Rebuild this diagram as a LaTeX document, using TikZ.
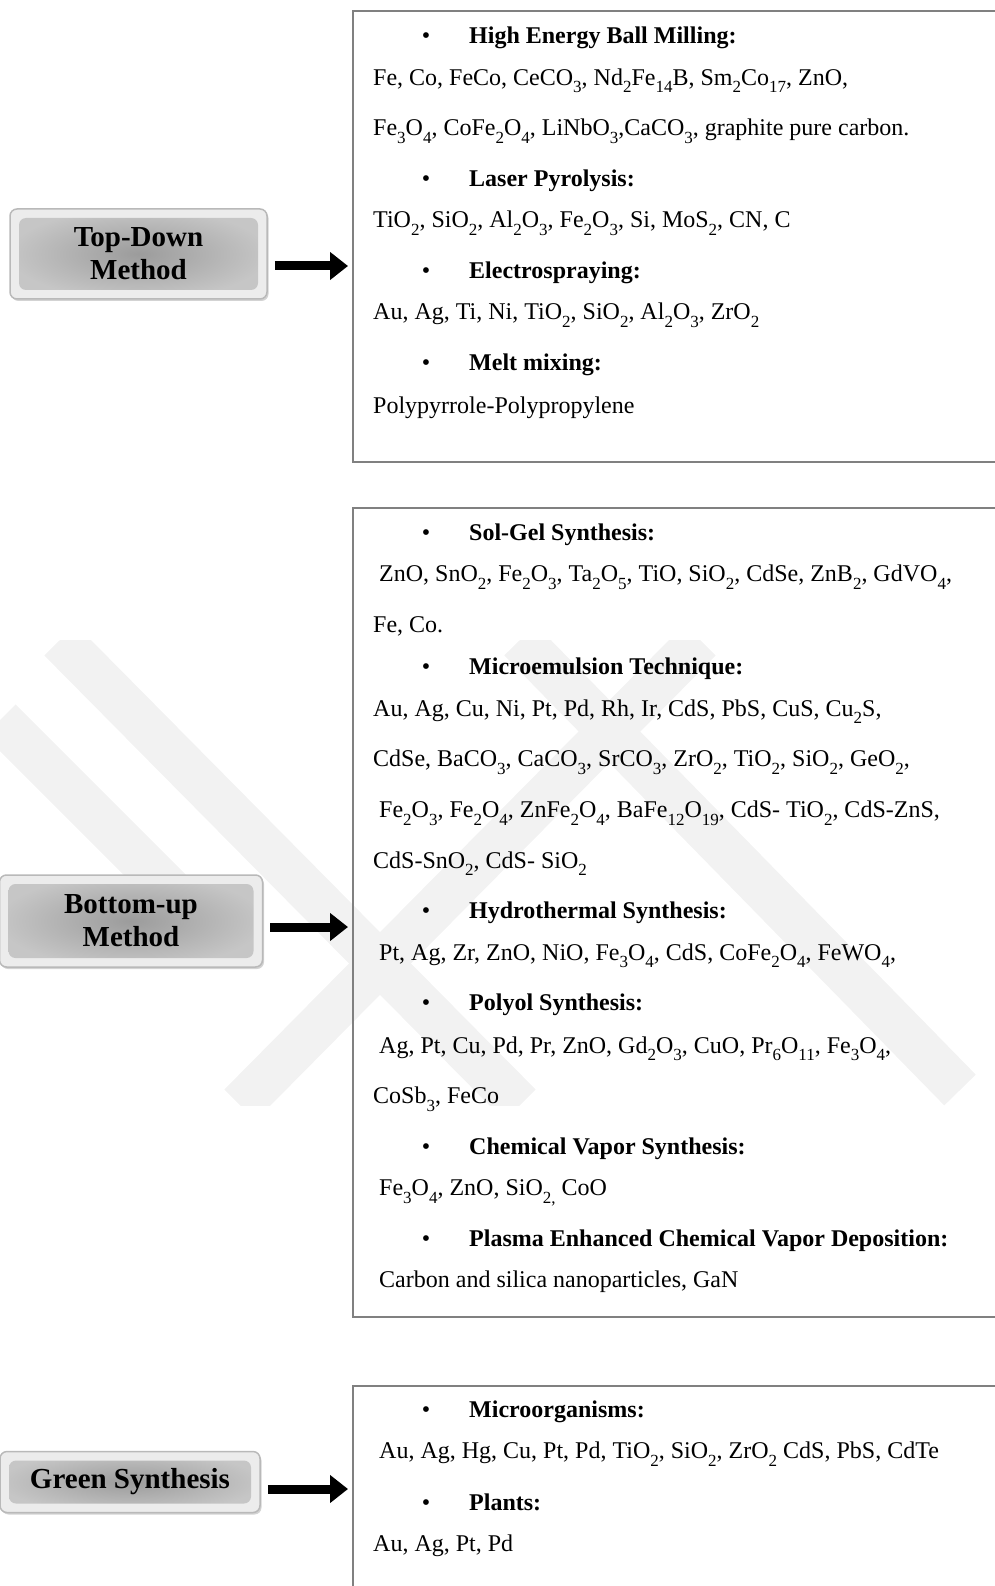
\documentclass[tikz,border=0pt]{standalone}
\usepackage{fontspec}
\setmainfont{Liberation Serif}
\usetikzlibrary{arrows.meta,shadows}
\newcommand{\sbs}[1]{\raisebox{-7.5pt}{\fontsize{17}{17}\selectfont #1}}
\tikzset{
  methodbtn/.style={draw=gray!55, line width=1.5pt, rounded corners=7pt, fill=gray!15,
    align=center, font=\fontsize{29}{33}\selectfont\bfseries,
    drop shadow={shadow xshift=1.5pt, shadow yshift=-2pt, opacity=0.35, fill=gray},
    path picture={\shade[inner color=gray!78, outer color=gray!45]
      ([xshift=9pt,yshift=9pt]path picture bounding box.south west) rectangle
      ([xshift=-9pt,yshift=-9pt]path picture bounding box.north east);}},
  listbox/.style={draw=black!50, line width=1.6pt, anchor=north west, inner sep=0pt},
  headtxt/.style={anchor=base west, inner sep=0pt, font=\fontsize{24}{28}\selectfont\bfseries},
  itemtxt/.style={anchor=base west, inner sep=0pt},
  dottxt/.style={anchor=base, inner sep=0pt},
  bigarrow/.style={-{Triangle[length=18pt,width=27pt]}, line width=9pt, shorten <=7pt, shorten >=4pt},
  watermark/.style={line width=44pt, black!5},
}
\begin{document}
\begin{tikzpicture}[x=1pt, y=-1pt, font=\fontsize{24}{28}\selectfont]
  \useasboundingbox (0,0) rectangle (994,1586);

  % faint watermark behind the middle part
  \begin{scope}
    \clip (0,640) rectangle (994,1105);
    \draw[watermark] (60,640) -- (520,1105);
    \draw[watermark] (0,720) -- (230,950);
    \draw[watermark] (240,1105) -- (700,640);
    \draw[watermark] (520,640) -- (960,1090);
  \end{scope}

  % method buttons
  \node[methodbtn, minimum width=257pt, minimum height=90pt] (tdbtn) at (138.5,254) {Top-Down\\Method};
  \node[methodbtn, minimum width=263pt, minimum height=92pt] (bubtn) at (131,921) {Bottom-up\\Method};
  \node[methodbtn, minimum width=260pt, minimum height=61pt] (gsbtn) at (130,1482) {Green Synthesis};

  % list frames
  \node[listbox, minimum width=660pt, minimum height=451pt] (tdlist) at (352,10) {};
  \node[listbox, minimum width=660pt, minimum height=809pt] (bulist) at (352,507) {};
  \node[listbox, minimum width=660pt, minimum height=215pt] (gslist) at (352,1385) {};

  % arrows
  \coordinate (tdarrow) at (0,266);
  \coordinate (buarrow) at (0,927);
  \coordinate (gsarrow) at (0,1489);
  \draw[bigarrow] (tdbtn.east |- tdarrow) -- (tdlist.west |- tdarrow);
  \draw[bigarrow] (bubtn.east |- buarrow) -- (bulist.west |- buarrow);
  \draw[bigarrow] (gsbtn.east |- gsarrow) -- (gslist.west |- gsarrow);

  % Top-Down list
  \node[dottxt] (tdd1) at (426,43.9) {\textbullet};
  \node[headtxt] (tdh1) at (469,43.9) {High Energy Ball Milling:};
  \node[itemtxt] (tdl1) at (373,85.4) {Fe, Co, FeCo, CeCO\sbs{3}, Nd\sbs{2}Fe\sbs{14}B, Sm\sbs{2}Co\sbs{17}, ZnO,};
  \node[itemtxt] (tdl2) at (373,135.9) {Fe\sbs{3}O\sbs{4}, CoFe\sbs{2}O\sbs{4}, LiNbO\sbs{3},CaCO\sbs{3}, graphite pure carbon.};
  \node[dottxt] (tdd2) at (426,186.5) {\textbullet};
  \node[headtxt] (tdh2) at (469,186.5) {Laser Pyrolysis:};
  \node[itemtxt] (tdl3) at (373,227.9) {TiO\sbs{2}, SiO\sbs{2}, Al\sbs{2}O\sbs{3}, Fe\sbs{2}O\sbs{3}, Si, MoS\sbs{2}, CN, C};
  \node[dottxt] (tdd3) at (426,278.5) {\textbullet};
  \node[headtxt] (tdh3) at (469,278.5) {Electrospraying:};
  \node[itemtxt] (tdl4) at (373,319.9) {Au, Ag, Ti, Ni, TiO\sbs{2}, SiO\sbs{2}, Al\sbs{2}O\sbs{3}, ZrO\sbs{2}};
  \node[dottxt] (tdd4) at (426,370.5) {\textbullet};
  \node[headtxt] (tdh4) at (469,370.5) {Melt mixing:};
  \node[itemtxt] (tdl5) at (373,413) {Polypyrrole-Polypropylene};

  % Bottom-up list
  \node[dottxt] (bud1) at (426,540.4) {\textbullet};
  \node[headtxt] (buh1) at (469,540.4) {Sol-Gel Synthesis:};
  \node[itemtxt] (bul1) at (379,581.9) {ZnO, SnO\sbs{2}, Fe\sbs{2}O\sbs{3}, Ta\sbs{2}O\sbs{5}, TiO, SiO\sbs{2}, CdSe, ZnB\sbs{2}, GdVO\sbs{4},};
  \node[itemtxt] (bul2) at (373,632.4) {Fe, Co.};
  \node[dottxt] (bud2) at (426,674.9) {\textbullet};
  \node[headtxt] (buh2) at (469,674.9) {Microemulsion Technique:};
  \node[itemtxt] (bul3) at (373,716.3) {Au, Ag, Cu, Ni, Pt, Pd, Rh, Ir, CdS, PbS, CuS, Cu\sbs{2}S,};
  \node[itemtxt] (bul4) at (373,766.9) {CdSe, BaCO\sbs{3}, CaCO\sbs{3}, SrCO\sbs{3}, ZrO\sbs{2}, TiO\sbs{2}, SiO\sbs{2}, GeO\sbs{2},};
  \node[itemtxt] (bul5) at (379,817.5) {Fe\sbs{2}O\sbs{3}, Fe\sbs{2}O\sbs{4}, ZnFe\sbs{2}O\sbs{4}, BaFe\sbs{12}O\sbs{19}, CdS- TiO\sbs{2}, CdS-ZnS,};
  \node[itemtxt] (bul6) at (373,868) {CdS-SnO\sbs{2}, CdS- SiO\sbs{2}};
  \node[dottxt] (bud3) at (426,918.6) {\textbullet};
  \node[headtxt] (buh3) at (469,918.6) {Hydrothermal Synthesis:};
  \node[itemtxt] (bul7) at (379,960) {Pt, Ag, Zr, ZnO, NiO, Fe\sbs{3}O\sbs{4}, CdS, CoFe\sbs{2}O\sbs{4}, FeWO\sbs{4},};
  \node[dottxt] (bud4) at (426,1010.6) {\textbullet};
  \node[headtxt] (buh4) at (469,1010.6) {Polyol Synthesis:};
  \node[itemtxt] (bul8) at (379,1053.1) {Ag, Pt, Cu, Pd, Pr, ZnO, Gd\sbs{2}O\sbs{3}, CuO, Pr\sbs{6}O\sbs{11}, Fe\sbs{3}O\sbs{4},};
  \node[itemtxt] (bul9) at (373,1103.6) {CoSb\sbs{3}, FeCo};
  \node[dottxt] (bud5) at (426,1154.2) {\textbullet};
  \node[headtxt] (buh5) at (469,1154.2) {Chemical Vapor Synthesis:};
  \node[itemtxt] (bul10) at (379,1195.6) {Fe\sbs{3}O\sbs{4}, ZnO, SiO\sbs{2,} CoO};
  \node[dottxt] (bud6) at (426,1246.2) {\textbullet};
  \node[headtxt] (buh6) at (469,1246.2) {Plasma Enhanced Chemical Vapor Deposition:};
  \node[itemtxt] (bul11) at (379,1287.7) {Carbon and silica nanoparticles, GaN};

  % Green synthesis list
  \node[dottxt] (gsd1) at (426,1417.1) {\textbullet};
  \node[headtxt] (gsh1) at (469,1417.1) {Microorganisms:};
  \node[itemtxt] (gsl1) at (379,1458.6) {Au, Ag, Hg, Cu, Pt, Pd, TiO\sbs{2}, SiO\sbs{2}, ZrO\sbs{2} CdS, PbS, CdTe};
  \node[dottxt] (gsd2) at (426,1510.1) {\textbullet};
  \node[headtxt] (gsh2) at (469,1510.1) {Plants:};
  \node[itemtxt] (gsl2) at (373,1551.6) {Au, Ag, Pt, Pd};
\end{tikzpicture}
\end{document}
